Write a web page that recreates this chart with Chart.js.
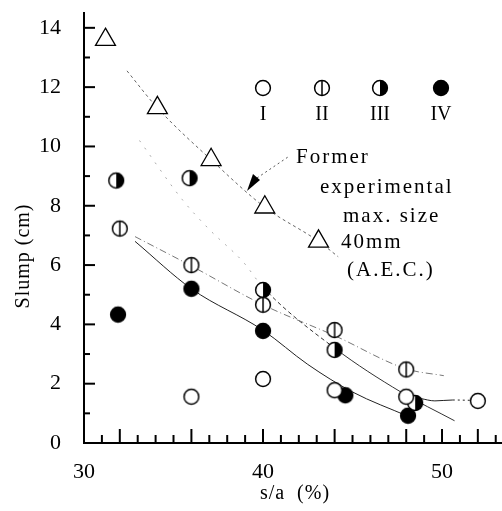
<!DOCTYPE html>
<html>
<head>
<meta charset="utf-8">
<script src="https://cdn.jsdelivr.net/npm/chart.js@4.4.1/dist/chart.umd.min.js"></script>
<style>
  html, body { margin: 0; padding: 0; background: #fff; }
  canvas { display: block; }
</style>
</head>
<body>
<canvas id="chart" width="502" height="511"></canvas>
<script>
// axis ticks
const xTickVals = [30, 40, 50];
const yTickVals = [0, 2, 4, 6, 8, 10, 12, 14];
const xLongTicks = [32, 36, 40, 44, 48, 50, 52];

// measured points, s/a (%) vs slump (cm)
const sandI_x = [36, 40, 44, 48, 52];
const sandI_y = [1.56, 2.16, 1.78, 1.56, 1.42];
const sandII_x = [32, 36, 40, 44, 48];
const sandII_y = [7.23, 6.0, 4.66, 3.81, 2.48];
const sandIII_x = [31.8, 35.9, 40, 44, 48.5];
const sandIII_y = [8.85, 8.93, 5.16, 3.14, 1.35];
const sandIV_x = [31.9, 36, 40, 44.6, 48.1];
const sandIV_y = [4.33, 5.2, 3.78, 1.61, 0.92];
const former_x = [31.2, 34.1, 37.1, 40.1, 43.1];
const former_y = [13.6, 11.3, 9.55, 7.95, 6.8];

// hand drawn trend curves
const curveI_x = [48.8, 49.6, 50.6, 51.6];
const curveI_y = [1.5, 1.42, 1.45, 1.44];
const curveII_x = [32.85, 36, 40, 44, 48, 50.1];
const curveII_y = [6.96, 5.97, 4.66, 3.62, 2.5, 2.27];
const curveIII_x = [33.1, 35.5, 37, 38.9, 40, 44, 47.7, 50.7];
const curveIII_y = [10.2, 8.2, 7.2, 6.1, 5.25, 3.2, 1.72, 0.75];
const curveIV_x = [32.85, 36, 40, 42.5, 45, 48.1];
const curveIV_y = [6.8, 5.2, 3.8, 2.65, 1.72, 0.9];
const curveFormer_x = [32.4, 34.1, 37.1, 40.1, 43.1, 44.2];
const curveFormer_y = [12.55, 11.3, 9.55, 7.95, 6.8, 6.28];

const legendLabels = ['I', 'II', 'III', 'IV'];
const noteLines = ['Former', 'experimental', 'max. size', '40mm', '(A.E.C.)'];

const SERIF = '"Liberation Serif", "DejaVu Serif", serif';

const pts = (xs, ys) => xs.map((x, i) => ({ x: x, y: ys[i] }));

function marker(kind) {
  const c = document.createElement('canvas');
  c.width = 20; c.height = 20;
  const g = c.getContext('2d');
  const r = 7.4;
  g.lineWidth = 1.5;
  g.strokeStyle = '#000';
  g.beginPath();
  g.arc(10, 10, r, 0, Math.PI * 2);
  g.fillStyle = kind === 'IV' ? '#000' : '#fff';
  g.fill();
  g.stroke();
  if (kind === 'II') {
    g.beginPath();
    g.moveTo(10, 10 - r);
    g.lineTo(10, 10 + r);
    g.stroke();
  }
  if (kind === 'III') {
    g.beginPath();
    g.arc(10, 10, r, -Math.PI / 2, Math.PI / 2);
    g.closePath();
    g.fillStyle = '#000';
    g.fill();
  }
  return c;
}
const markers = { I: marker('I'), II: marker('II'), III: marker('III'), IV: marker('IV') };

function pointSet(data, style) {
  return {
    data: data, pointStyle: style, pointRadius: 8, showLine: false, order: 1
  };
}
function curveSet(data, color, dash, extra) {
  return Object.assign({
    data: data, showLine: true, pointRadius: 0, borderColor: color,
    borderWidth: 1, borderDash: dash, cubicInterpolationMode: 'monotone', order: 2
  }, extra || {});
}

// inward ticks, legend, note and axis titles
const decor = {
  id: 'decor',
  afterDraw(chart) {
    const ctx = chart.ctx;
    const xs = chart.scales.x, ys = chart.scales.y;
    const x0 = xs.getPixelForValue(30), y0 = ys.getPixelForValue(0);
    ctx.save();
    ctx.strokeStyle = '#000';
    ctx.lineWidth = 2;
    for (let v = 1; v <= 14; v++) {
      const y = ys.getPixelForValue(v);
      ctx.beginPath();
      ctx.moveTo(x0, y);
      ctx.lineTo(x0 + (v % 2 === 0 ? 11 : 6), y);
      ctx.stroke();
    }
    for (let v = 31; v <= 53; v++) {
      const x = xs.getPixelForValue(v);
      ctx.beginPath();
      ctx.moveTo(x, y0);
      ctx.lineTo(x, y0 - (xLongTicks.includes(v) ? 14 : 8));
      ctx.stroke();
    }

    // legend
    const lx = [263, 322, 380, 441];
    const kinds = ['I', 'II', 'III', 'IV'];
    ctx.fillStyle = '#000';
    ctx.font = '20px ' + SERIF;
    ctx.textAlign = 'center';
    ctx.textBaseline = 'alphabetic';
    kinds.forEach((k, i) => {
      ctx.drawImage(markers[k], lx[i] - 10, 88 - 10);
      ctx.fillText(legendLabels[i], lx[i], 120);
    });

    // note
    ctx.textAlign = 'left';
    ctx.font = '21px ' + SERIF;
    ctx.letterSpacing = '2px';
    const nx = [296, 320, 343, 341, 347];
    const ny = [163, 193, 222, 248, 276];
    noteLines.forEach((t, i) => ctx.fillText(t, nx[i], ny[i]));
    ctx.letterSpacing = '0px';

    // arrow to the former curve
    ctx.lineWidth = 1;
    ctx.strokeStyle = '#555';
    ctx.setLineDash([2, 3]);
    ctx.beginPath();
    ctx.moveTo(257, 178);
    ctx.lineTo(288, 157);
    ctx.stroke();
    ctx.setLineDash([]);
    ctx.fillStyle = '#000';
    ctx.beginPath();
    ctx.moveTo(247, 191);
    ctx.lineTo(253, 174);
    ctx.lineTo(260, 180);
    ctx.closePath();
    ctx.fill();

    // axis titles
    ctx.font = '20px ' + SERIF;
    ctx.letterSpacing = '1px';
    ctx.textAlign = 'center';
    ctx.textBaseline = 'middle';
    ctx.save();
    ctx.translate(24, 256);
    ctx.rotate(-Math.PI / 2);
    ctx.fillText('Slump (cm)', 0, 0);
    ctx.restore();
    ctx.fillText('s/a  (%)', 295, 494);
    ctx.restore();
  }
};

new Chart(document.getElementById('chart'), {
  type: 'scatter',
  data: {
    datasets: [
      pointSet(pts(sandI_x, sandI_y), markers.I),
      pointSet(pts(sandII_x, sandII_y), markers.II),
      pointSet(pts(sandIII_x, sandIII_y), markers.III),
      pointSet(pts(sandIV_x, sandIV_y), markers.IV),
      {
        data: pts(former_x, former_y), pointStyle: 'triangle', pointRadius: 11.5,
        backgroundColor: '#fff', borderColor: '#000', borderWidth: 1.3, showLine: false, order: 1
      },
      curveSet(pts(curveI_x, curveI_y), '#222', [], {
        segment: { borderDash: c => c.p0DataIndex >= 2 ? [2, 3] : [] }
      }),
      curveSet(pts(curveII_x, curveII_y), '#777', [7, 3, 1, 3]),
      curveSet(pts(curveIII_x, curveIII_y), '#444', [], {
        segment: {
          borderDash: c => c.p0DataIndex < 4 ? [2, 7] : (c.p0DataIndex === 4 ? [4, 3] : []),
          borderColor: c => c.p0DataIndex < 4 ? '#aaa' : '#333'
        }
      }),
      curveSet(pts(curveIV_x, curveIV_y), '#222', []),
      curveSet(pts(curveFormer_x, curveFormer_y), '#666', [3, 3])
    ]
  },
  options: {
    responsive: false,
    animation: false,
    events: [],
    layout: { autoPadding: false, padding: { top: 13, right: 0, left: 0, bottom: 0 } },
    plugins: { legend: { display: false }, tooltip: { enabled: false } },
    scales: {
      x: {
        type: 'linear', min: 30, max: 53.35,
        afterBuildTicks: s => { s.ticks = xTickVals.map(v => ({ value: v })); },
        afterFit: s => { s.height = 68; s.paddingLeft = 0; s.paddingRight = 0; },
        grid: { display: false },
        border: { display: true, color: '#000', width: 2 },
        ticks: { color: '#000', padding: 8, maxRotation: 0, font: { family: SERIF, size: 22 } }
      },
      y: {
        type: 'linear', min: 0, max: 14.5,
        afterBuildTicks: s => { s.ticks = yTickVals.map(v => ({ value: v })); },
        afterFit: s => { s.width = 84; s.paddingTop = 0; s.paddingBottom = 0; },
        grid: { display: false },
        border: { display: true, color: '#000', width: 2 },
        ticks: { color: '#000', padding: 15, font: { family: SERIF, size: 22 } }
      }
    }
  },
  plugins: [decor]
});
</script>
</body>
</html>
